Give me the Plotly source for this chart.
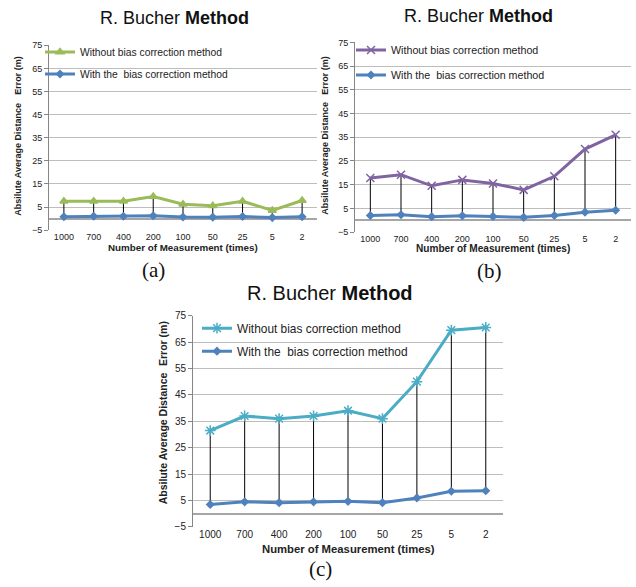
import plotly.graph_objects as go

W, H = 636, 587

categories = ["1000", "700", "400", "200", "100", "50", "25", "5", "2"]
a_without = [7.5, 7.5, 7.5, 9.5, 6.2, 5.5, 7.5, 3.5, 7.8]
a_with = [0.8, 1.0, 1.0, 1.2, 0.7, 0.6, 0.9, 0.4, 0.8]
b_without = [17.8, 19.2, 14.5, 17.0, 15.5, 12.8, 18.5, 30.0, 36.0]
b_with = [2.0, 2.3, 1.5, 1.9, 1.6, 1.2, 2.0, 3.4, 4.2]
c_without = [31.5, 37.0, 36.0, 37.0, 39.0, 36.0, 50.0, 69.5, 70.5]
c_with = [3.5, 4.5, 4.2, 4.5, 4.7, 4.2, 6.0, 8.5, 8.7]
y_ticks = list(range(-5, 76, 10))

name_without = "Without bias correction method"
name_with = "With the\u00a0 bias correction method"
y_title_parts = ["Absilute Average Distance", "Error (m)"]
x_title = "Number of Measurement (times)"


def px(x):
    return x / W


def py(y):
    return 1 - y / H


panels = [
    dict(key="", leg="legend", box=(49, 41, 317, 229), without=a_without, with_=a_with,
         color="#9BBB59", symbol="triangle-up", msize=7, label="(a)",
         title_xy=(174, 13), label_xy=(153, 270), ytitle_x=18, yt_span=(50, 217),
         xtitle_y=247, leg_xy=(40, 33), leg_gap=3, tick_fs=9, leg_fs=10.3, title_fs=18,
         xt_fs=9.8, yt_fs=9),
    dict(key="2", leg="legend2", box=(355, 38, 631, 231), without=b_without, with_=b_with,
         color="#8064A2", symbol="x-thin-open", msize=8, label="(b)",
         title_xy=(478, 11), label_xy=(489, 271), ytitle_x=325, yt_span=(50, 216),
         xtitle_y=248, leg_xy=(351, 31), leg_gap=6, tick_fs=9, leg_fs=10.7, title_fs=18,
         xt_fs=10.1, yt_fs=9),
    dict(key="3", leg="legend3", box=(193, 316, 503, 531), without=c_without, with_=c_with,
         color="#4BACC6", symbol="asterisk-open", msize=9, label="(c)",
         title_xy=(330, 293), label_xy=(320, 574), ytitle_x=163, yt_span=(320, 510),
         xtitle_y=553, leg_xy=(197, 314), leg_gap=4, tick_fs=10, leg_fs=11.9, title_fs=20,
         xt_fs=11.3, yt_fs=10.5),
]

fig = go.Figure()
annotations = []
layout = {}

for p in panels:
    xa = "x" + p["key"]
    ya = "y" + p["key"]
    l, t, r, b = p["box"]
    # drop lines
    dx, dy = [], []
    for c, lo, hi in zip(categories, p["with_"], p["without"]):
        dx += [c, c, None]
        dy += [lo, hi, None]
    fig.add_trace(go.Scatter(x=dx, y=dy, mode="lines", line=dict(color="black", width=1),
                             showlegend=False, hoverinfo="skip", xaxis=xa, yaxis=ya))
    fig.add_trace(go.Scatter(x=categories, y=p["without"], mode="lines+markers", name=name_without,
                             line=dict(color=p["color"], width=3),
                             marker=dict(symbol=p["symbol"], size=p["msize"], color=p["color"],
                                         line=dict(color=p["color"], width=1.5)),
                             legend=p["leg"], legendgroup="wo" + p["key"], xaxis=xa, yaxis=ya))
    fig.add_trace(go.Scatter(x=categories, y=p["with_"], mode="lines+markers", name=name_with,
                             line=dict(color="#4F81BD", width=3),
                             marker=dict(symbol="diamond", size=7, color="#4F81BD"),
                             legend=p["leg"], legendgroup="w" + p["key"], xaxis=xa, yaxis=ya))
    layout["xaxis" + p["key"]] = dict(
        domain=[px(l), px(r)], anchor=ya, type="category", range=[-0.5, 8.5],
        showgrid=False, showline=False, ticks="", zeroline=False,
        tickfont=dict(family="Liberation Sans", size=p["tick_fs"], color="#222"),
        fixedrange=True)
    layout["yaxis" + p["key"]] = dict(
        domain=[py(b), py(t)], anchor=xa, range=[-5, 75], tickvals=y_ticks,
        showgrid=True, gridcolor="#BDBDBD", gridwidth=1,
        zeroline=True, zerolinecolor="#A6A6A6", zerolinewidth=1.5,
        showline=True, linecolor="#868686", linewidth=1, ticks="outside", ticklen=4,
        tickcolor="#868686",
        tickfont=dict(family="Liberation Sans", size=p["tick_fs"], color="#222"),
        fixedrange=True)
    layout[p["leg"]] = dict(
        x=px(p["leg_xy"][0]), y=py(p["leg_xy"][1]), xanchor="left", yanchor="top",
        bgcolor="rgba(0,0,0,0)", borderwidth=0, tracegroupgap=p["leg_gap"],
        font=dict(family="Liberation Sans", size=p["leg_fs"], color="#222"),
        itemwidth=30)
    annotations.append(dict(
        x=px(p["title_xy"][0]), y=py(p["title_xy"][1]), xref="paper", yref="paper",
        text="R. Bucher <b>Method</b>", showarrow=False,
        font=dict(family="Liberation Sans", size=p["title_fs"], color="#111"),
        xanchor="center", yanchor="middle"))
    yt_top, yt_bottom = p["yt_span"]
    annotations.append(dict(
        x=px(p["ytitle_x"]), y=py(yt_bottom), xref="paper", yref="paper",
        text="<b>" + y_title_parts[0] + "</b>", textangle=-90, showarrow=False,
        font=dict(family="Liberation Sans", size=p["yt_fs"], color="#222"),
        xanchor="center", yanchor="bottom"))
    annotations.append(dict(
        x=px(p["ytitle_x"]), y=py(yt_top), xref="paper", yref="paper",
        text="<b>" + y_title_parts[1] + "</b>", textangle=-90, showarrow=False,
        font=dict(family="Liberation Sans", size=p["yt_fs"], color="#222"),
        xanchor="center", yanchor="top"))
    annotations.append(dict(
        x=px((l + r) / 2), y=py(p["xtitle_y"]), xref="paper", yref="paper",
        text="<b>" + x_title + "</b>", showarrow=False,
        font=dict(family="Liberation Sans", size=p["xt_fs"], color="#222"),
        xanchor="center", yanchor="middle"))
    annotations.append(dict(
        x=px(p["label_xy"][0]), y=py(p["label_xy"][1]), xref="paper", yref="paper",
        text=p["label"], showarrow=False,
        font=dict(family="Liberation Serif", size=21, color="#111"),
        xanchor="center", yanchor="middle"))

fig.update_layout(
    width=W, height=H, margin=dict(l=0, r=0, t=0, b=0),
    paper_bgcolor="white", plot_bgcolor="white",
    annotations=annotations, **layout)

fig.write_html("out.html", config={"displayModeBar": False},
               post_script="document.body.style.margin='0';")
